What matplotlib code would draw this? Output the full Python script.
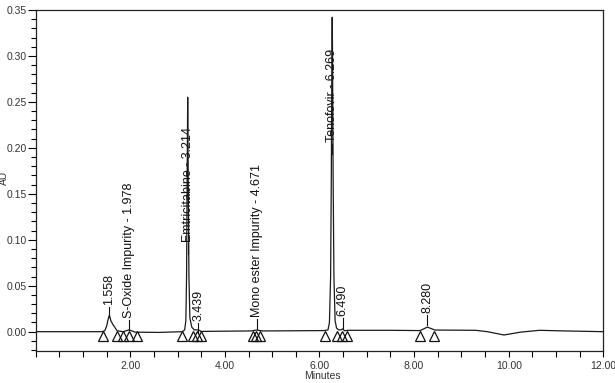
import matplotlib
matplotlib.use('Agg')
import matplotlib.pyplot as plt
from matplotlib.ticker import MultipleLocator, FormatStrFormatter, FuncFormatter

plt.rcParams['font.family'] = ['Liberation Sans', 'DejaVu Sans']

# chromatogram trace (minutes, AU)
time = [0.00, 1.40, 1.46, 1.50, 1.53, 1.558, 1.59, 1.63, 1.67, 1.72, 1.85, 1.978, 2.10,
        2.60, 3.10, 3.15, 3.175, 3.19, 3.203, 3.214, 3.225, 3.24, 3.26, 3.30, 3.35, 3.439, 3.50,
        4.55, 4.671, 4.80, 5.50, 6.10, 6.18, 6.21, 6.235, 6.25, 6.262, 6.269, 6.276, 6.288,
        6.305, 6.33, 6.36, 6.40, 6.45, 6.49, 6.53, 6.60, 7.50, 8.13, 8.28, 8.44, 9.30, 9.55,
        9.90, 10.25, 10.65, 11.20, 12.00]
absorb = [0.000, 0.000, 0.001, 0.006, 0.013, 0.018, 0.012, 0.008, 0.005, 0.001, 0.000, 0.002, -0.0005,
          -0.0008, 0.000, 0.002, 0.012, 0.060, 0.170, 0.255, 0.170, 0.060, 0.015, 0.005, 0.002, 0.002, 0.0003,
          0.0008, 0.0018, 0.0008, 0.001, 0.0012, 0.002, 0.010, 0.060, 0.170, 0.300, 0.342, 0.300, 0.170,
          0.060, 0.012, 0.004, 0.002, 0.002, 0.003, 0.001, 0.0015, 0.0015, 0.0012, 0.005, 0.0018, 0.0015, 0.000,
          -0.0036, -0.0005, 0.0015, 0.0008, 0.000]

# peak start/end markers
markers_x = [1.42, 1.72, 1.85, 1.97, 2.14, 3.09, 3.33, 3.41, 3.49, 4.59, 4.66, 4.74,
             6.12, 6.37, 6.48, 6.58, 8.13, 8.42]
marker_y = -0.0046

# peak labels
peak_names = ['1.558', 'S-Oxide Impurity - 1.978', 'Emtricitabine - 3.214', '3.439',
              'Mono ester Impurity - 4.671', 'Tenofovir - 6.269', '6.490', '8.280']
peak_x = [1.558, 1.978, 3.214, 3.439, 4.671, 6.269, 6.490, 8.280]
label_y = [0.029, 0.015, 0.098, 0.0115, 0.016, 0.206, 0.017, 0.020]

fig = plt.figure(figsize=(6.15, 3.83), dpi=100)
ax = fig.add_axes([0.058, 0.0843, 0.923, 0.8897])

ax.plot(time, absorb, color='#1a1a1a', lw=0.9, zorder=3)
ax.plot(markers_x, [marker_y] * len(markers_x), linestyle='none', marker='^', ms=7.5,
        mfc='none', mec='#111111', mew=0.9, zorder=4)

for name, px, ly in zip(peak_names, peak_x, label_y):
    ax.plot([px, px], [ly - 0.013, ly - 0.002], color='#111111', lw=0.8, zorder=2)
    ax.text(px, ly, name, rotation=90, ha='center', va='bottom', fontsize=9, color='#111111', zorder=2)

ax.set_xlim(0, 12)
ax.set_ylim(-0.0207, 0.35)
ax.xaxis.set_major_locator(MultipleLocator(2))
ax.xaxis.set_minor_locator(MultipleLocator(0.5))
ax.yaxis.set_major_locator(MultipleLocator(0.05))
ax.yaxis.set_minor_locator(MultipleLocator(0.01))
ax.xaxis.set_major_formatter(FuncFormatter(lambda v, p: '' if v == 0 else '%.2f' % v))
ax.yaxis.set_major_formatter(FormatStrFormatter('%.2f'))
ax.tick_params(axis='x', which='both', length=4, width=0.8, pad=3.5, labelsize=7.5, labelcolor='#333333')
ax.tick_params(axis='y', which='major', length=6, width=0.8, pad=0.5, labelsize=7.5, labelcolor='#333333')
ax.tick_params(axis='y', which='minor', length=3.5, width=0.8)
for s in ax.spines.values():
    s.set_linewidth(0.9)
    s.set_color('#222222')

fig.text(0.006, 0.535, 'AU', rotation=90, ha='center', va='center', fontsize=7.5, color='#333333')
fig.text(0.525, 0.004, 'Minutes', ha='center', va='bottom', fontsize=7.5, color='#333333')

fig.savefig('out.png', dpi=100)
